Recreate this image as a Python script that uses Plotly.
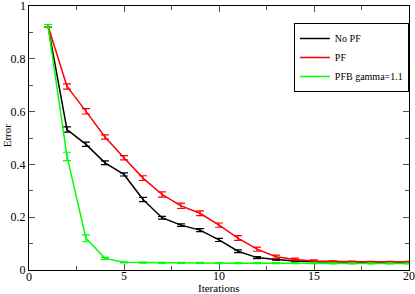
import plotly.graph_objects as go

iterations = list(range(1, 21))
no_pf = [0.925, 0.532, 0.476, 0.406, 0.362, 0.267, 0.198, 0.17, 0.151, 0.114, 0.071, 0.047, 0.04, 0.034, 0.031, 0.03, 0.029, 0.029, 0.028, 0.028]
no_pf_err = [0.005, 0.01, 0.008, 0.007, 0.006, 0.008, 0.005, 0.005, 0.006, 0.006, 0.005, 0.004, 0.003, 0.003, 0.002, 0.002, 0.002, 0.002, 0.002, 0.002]
pf = [0.925, 0.695, 0.601, 0.504, 0.425, 0.348, 0.286, 0.243, 0.215, 0.17, 0.121, 0.079, 0.05, 0.04, 0.034, 0.032, 0.031, 0.03, 0.03, 0.03]
pf_err = [0.005, 0.01, 0.01, 0.008, 0.008, 0.009, 0.01, 0.01, 0.009, 0.008, 0.009, 0.008, 0.006, 0.005, 0.004, 0.003, 0.003, 0.003, 0.003, 0.003]
pfb = [0.925, 0.43, 0.12, 0.044, 0.029, 0.028, 0.027, 0.027, 0.027, 0.026, 0.026, 0.026, 0.026, 0.026, 0.026, 0.025, 0.025, 0.025, 0.025, 0.025]
pfb_err = [0.005, 0.016, 0.013, 0.004, 0.002, 0.002, 0.002, 0.002, 0.002, 0.002, 0.002, 0.002, 0.002, 0.002, 0.002, 0.002, 0.002, 0.002, 0.002, 0.002]

x_ticks = [0, 5, 10, 15, 20]
x_ticklabels = ["0", "5", "10", "15", "20"]
y_ticks = [0, 0.2, 0.4, 0.6, 0.8, 1]
y_ticklabels = ["0", "0.2", "0.4", "0.6", "0.8", "1"]

series = [
    ("No PF", no_pf, no_pf_err, "#000000"),
    ("PF", pf, pf_err, "#ff0000"),
    ("PFB gamma=1.1", pfb, pfb_err, "#00ff00"),
]

fig = go.Figure()
for name, vals, errs, col in series:
    fig.add_trace(go.Scatter(
        x=iterations, y=vals, name=name, mode="lines",
        line=dict(color=col, width=1.5),
        error_y=dict(type="data", array=errs, visible=True, color=col, thickness=1.2, width=4),
    ))

font = "Liberation Serif, Times New Roman, serif"
axis_common = dict(
    showline=True, linecolor="black", linewidth=1, mirror="ticks",
    ticks="inside", ticklen=6, tickcolor="#555", tickwidth=1,
    showgrid=False, zeroline=False, automargin=False,
    ticklabeloverflow="allow", tickmode="array",
    tickfont=dict(family=font, size=12, color="black"),
)
fig.update_xaxes(range=[0, 20], tickvals=x_ticks[1:], ticktext=x_ticklabels[1:], ticklabelstandoff=-5,
                 minor=dict(tickmode="linear", tick0=0, dtick=2.5, ticks="inside", ticklen=4, tickcolor="#555"), **axis_common)
fig.update_yaxes(range=[0, 1], tickvals=y_ticks[:-1], ticktext=y_ticklabels[:-1], ticklabelstandoff=0,
                 minor=dict(tickmode="linear", tick0=0, dtick=0.1, ticks="inside", ticklen=4, tickcolor="#555"), **axis_common)

# end labels that plotly drops at the corners of the frame
fig.add_annotation(text=x_ticklabels[0], xref="x", yref="paper", x=x_ticks[0], y=-0.028,
                   xanchor="center", yanchor="middle", showarrow=False,
                   font=dict(family=font, size=12, color="black"))
fig.add_annotation(text=y_ticklabels[-1], xref="paper", yref="y", x=-0.003, y=y_ticks[-1],
                   xanchor="right", yanchor="middle", showarrow=False,
                   font=dict(family=font, size=12, color="black"))

fig.add_annotation(text="Iterations", xref="paper", yref="paper", x=0.5, y=-0.07,
                   xanchor="center", yanchor="middle", showarrow=False,
                   font=dict(family=font, size=11, color="black"))
fig.add_annotation(text="Error", xref="paper", yref="paper", x=-0.058, y=0.51,
                   xanchor="center", yanchor="middle", textangle=-90, showarrow=False,
                   font=dict(family=font, size=11, color="black"))

fig.update_layout(
    width=415, height=294,
    margin=dict(l=29, r=6, t=6, b=24),
    paper_bgcolor="white", plot_bgcolor="white",
    showlegend=True,
    legend=dict(x=0.697, y=0.936, xanchor="left", yanchor="top",
                bgcolor="white", bordercolor="black", borderwidth=1,
                font=dict(family=font, size=10, color="black"),
                tracegroupgap=0, itemwidth=30),
    font=dict(family=font, color="black"),
)

fig.write_html("out.html", config={"displayModeBar": False},
               post_script="document.body.style.margin='0px';document.body.style.overflow='hidden';")
